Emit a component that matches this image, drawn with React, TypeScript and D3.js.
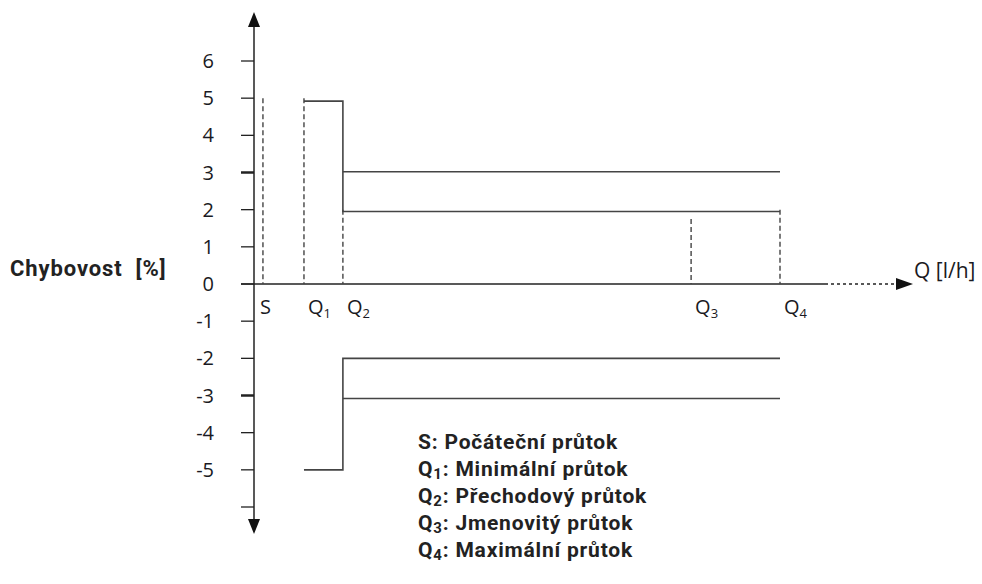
import React from "react";
import * as d3 from "d3";

// ---- data ----
const flowNames = ["S", "Q", "Q", "Q", "Q"];
const flowSubs = ["", "1", "2", "3", "4"];
const flowPositions = [1.7, 9.5, 16.9, 83.1, 100]; // relative flow along the axis
const dashTops = [5, 5, 2, 1.75, 2]; // top of the dashed guide at each flow

const yTickValues = [-6, -5, -4, -3, -2, -1, 0, 1, 2, 3, 4, 5, 6];
const yTickLabels = ["", "-5", "-4", "-3", "-2", "-1", "0", "1", "2", "3", "4", "5", "6"];

// error limit step lines: [flow index, error %]
const upperOuter: [number, number][] = [[1, 4.92], [2, 4.92], [2, 1.95], [4, 1.95]];
const upperInner: [number, number][] = [[2, 3.02], [4, 3.02]];
const lowerOuter: [number, number][] = [[1, -5], [2, -5], [2, -2], [4, -2]];
const lowerInner: [number, number][] = [[2, -3.08], [4, -3.08]];

const legendKeys = ["S", "Q", "Q", "Q", "Q"];
const legendSubs = ["", "1", "2", "3", "4"];
const legendTexts = [
  ": Počáteční průtok",
  ": Minimální průtok",
  ": Přechodový průtok",
  ": Jmenovitý průtok",
  ": Maximální průtok",
];

const W = 982;
const H = 584;

export default function App() {
  const x = d3.scaleLinear().domain([0, 100]).range([254, 780]);
  const y = d3.scaleLinear().domain([-6, 6]).range([507, 61]);
  const x0 = x(0);
  const y0 = y(0);

  const line = d3
    .line<[number, number]>()
    .x((d) => x(flowPositions[d[0]]))
    .y((d) => y(d[1]));

  const labelFont = "'Open Sans', 'Noto Sans', sans-serif";
  const boldFont = "Roboto, 'Noto Sans', sans-serif";
  const axisColor = "#222";
  const lineColor = "#444";

  const xEnd = x.range()[1];

  return (
    <svg width={W} height={H} style={{ position: "absolute", left: 0, top: 0 }}>
      <rect width={W} height={H} fill="#fff" />

      {/* y axis with arrows */}
      <line x1={x0} x2={x0} y1={24} y2={522} stroke={axisColor} strokeWidth={1.5} />
      <path d={`M${x0},12 L${x0 - 6},27 L${x0 + 6},27 Z`} fill="#111" />
      <path d={`M${x0},534 L${x0 - 6},519 L${x0 + 6},519 Z`} fill="#111" />

      {/* y ticks */}
      {yTickValues.map((v, i) => (
        <g key={v}>
          <line
            x1={x0 - 13}
            x2={x0}
            y1={y(v)}
            y2={y(v)}
            stroke={axisColor}
            strokeWidth={Math.abs(v) === 3 ? 2.5 : 1.3}
          />
          {yTickLabels[i] && (
            <text
              x={214}
              y={y(v) + 7}
              textAnchor="end"
              fontFamily={labelFont}
              fontSize={20}
              fill="#1a1a22"
            >
              {yTickLabels[i]}
            </text>
          )}
        </g>
      ))}

      {/* x axis */}
      <line x1={x0 - 13} x2={xEnd + 45} y1={y0} y2={y0} stroke={axisColor} strokeWidth={1.5} />
      <line
        x1={xEnd + 45}
        x2={xEnd + 118}
        y1={y0}
        y2={y0}
        stroke={axisColor}
        strokeWidth={1.3}
        strokeDasharray="3,3"
      />
      <path d={`M${xEnd + 133},${y0} L${xEnd + 116},${y0 - 6} L${xEnd + 116},${y0 + 6} Z`} fill="#111" />
      <text x={xEnd + 134} y={y0 - 6} fontFamily={labelFont} fontSize={21} fill="#1a1a22">
        Q [l/h]
      </text>

      {/* dashed guides */}
      {flowPositions.map((p, i) => (
        <line
          key={"d" + i}
          x1={x(p)}
          x2={x(p)}
          y1={y(dashTops[i])}
          y2={y0}
          stroke="#444"
          strokeWidth={1.4}
          strokeDasharray="5,3"
        />
      ))}

      {/* flow labels */}
      {flowPositions.map((p, i) => (
        <text
          key={"l" + i}
          x={x(p) + (i === 0 ? -3 : 4)}
          y={y0 + 30}
          fontFamily={labelFont}
          fontSize={20}
          fill="#1a1a22"
        >
          {flowNames[i]}
          {flowSubs[i] && (
            <tspan fontSize={13} dy={4}>
              {flowSubs[i]}
            </tspan>
          )}
        </text>
      ))}

      {/* limit lines */}
      {[upperOuter, upperInner, lowerOuter, lowerInner].map((d, i) => (
        <path key={"p" + i} d={line(d) || ""} fill="none" stroke={lineColor} strokeWidth={1.6} />
      ))}

      {/* y label */}
      <text
        x={10}
        y={276}
        fontFamily={boldFont}
        fontWeight={700}
        fontSize={22}
        letterSpacing={0.9}
        fill="#222"
        style={{ whiteSpace: "pre" }}
      >
        {"Chybovost  [%]"}
      </text>

      {/* legend */}
      {legendTexts.map((t, i) => (
        <text
          key={"g" + i}
          x={418}
          y={449 + i * 27}
          fontFamily={boldFont}
          fontWeight={700}
          fontSize={21}
          letterSpacing={0.8}
          fill="#222"
        >
          {legendKeys[i]}
          {legendSubs[i] && (
            <tspan fontSize={15} dy={3}>
              {legendSubs[i]}
            </tspan>
          )}
          <tspan dy={legendSubs[i] ? -3 : 0}>{t}</tspan>
        </text>
      ))}
    </svg>
  );
}
